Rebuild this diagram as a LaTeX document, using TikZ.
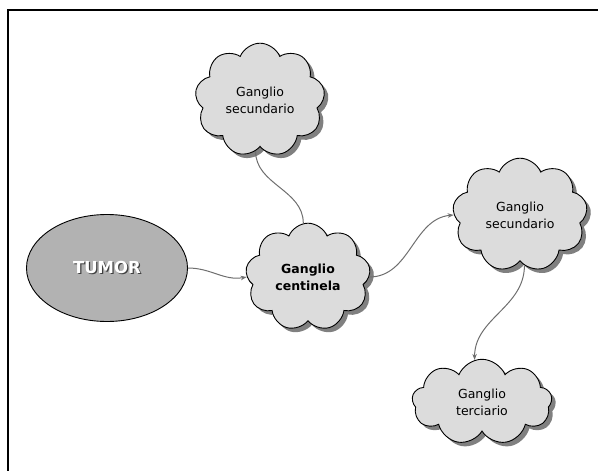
\documentclass[tikz,border=0pt]{standalone}
\usepackage{fontspec}
\setmainfont{DejaVu Sans}
\usepackage{xcolor}
\usepackage{tikz}
\usetikzlibrary{shapes.geometric,shapes.symbols,shadows,arrows.meta}

\definecolor{cloudgray}{HTML}{DCDCDC}
\definecolor{tumorgray}{HTML}{B2B2B2}
\definecolor{linkgray}{HTML}{6E6E6E}
\newcommand{\shadowword}[1]{\rlap{\raisebox{-1.2pt}{\hspace{1.2pt}\textcolor{black!75}{#1}}}\textcolor{white}{#1}}

\begin{document}
\begin{tikzpicture}[x=1pt,y=-1pt,
	ganglio/.style={cloud,cloud puffs=9,cloud puff arc=135,draw=black,line width=0.9pt,fill=cloudgray,
		drop shadow={shadow xshift=4pt,shadow yshift=-4pt,fill=gray,opacity=1},
		align=center,font=\fontsize{12.5}{17}\selectfont,inner sep=0pt},
	link/.style={draw=linkgray,line width=1pt},
	arrowlink/.style={link,-{Stealth[length=6pt,width=4.5pt]}}]
	\useasboundingbox (0,0) rectangle (598,471);
	\draw[line width=2.6pt] (8,471) -- (8,10) -- (598,10);
	
	\node[ellipse,draw=black,line width=0.9pt,fill=tumorgray,minimum width=161pt,minimum height=107pt,
		font=\fontsize{16.5}{20}\selectfont\bfseries] (tumor) at (107,268) {\shadowword{TUMOR}};
	\node[ganglio,minimum width=125pt,minimum height=97pt,font=\fontsize{12.5}{17}\selectfont\bfseries] (centinela) at (308,277) {Ganglio\\centinela};
	\node[ganglio,minimum width=130pt,minimum height=92pt] (secarriba) at (260,100) {Ganglio\\secundario};
	\node[ganglio,minimum width=135pt,minimum height=100pt] (secderecha) at (520,215) {Ganglio\\secundario};
	\node[ganglio,minimum width=140pt,minimum height=80pt] (terciario) at (482,402) {Ganglio\\terciario};
	
	\draw[arrowlink] (tumor.east) to[out=0,in=190] (centinela.west);
	\draw[link] (centinela.95) to[out=90,in=-90] (secarriba.-95);
	\draw[arrowlink] (centinela.east) to[out=0,in=185] (secderecha.west);
	\draw[arrowlink] (secderecha.-85) to[out=-90,in=90] (terciario.100);
\end{tikzpicture}
\end{document}
